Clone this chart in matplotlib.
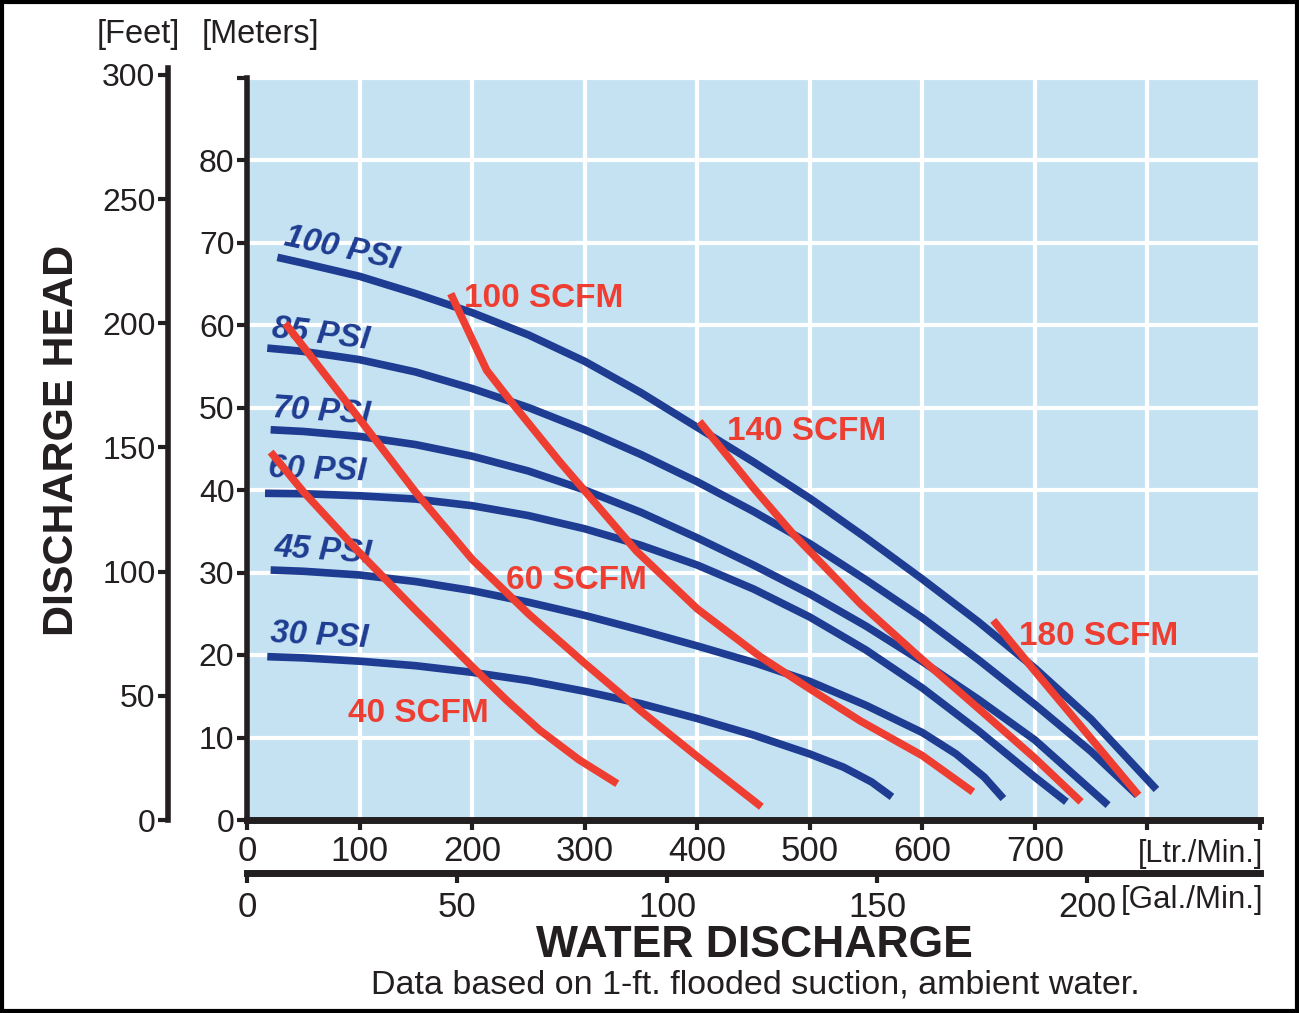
import matplotlib.pyplot as plt
from matplotlib.patches import Rectangle

plt.rcParams['font.family'] = ['Liberation Sans', 'DejaVu Sans']

# air pressure curves: water flow (L/min) vs discharge head (m)
psi_names = ["100 PSI", "85 PSI", "70 PSI", "60 PSI", "45 PSI", "30 PSI"]
psi100_flow = [27, 50, 100, 150, 200, 250, 300, 350, 400, 450, 500, 550, 600, 650, 700, 750, 808]
psi100_head = [68.2, 67.5, 65.9, 63.8, 61.5, 58.8, 55.6, 51.8, 47.6, 43.4, 39.0, 34.2, 29.2, 24.0, 18.4, 12.2, 3.7]
psi85_flow = [18, 50, 100, 150, 200, 250, 300, 350, 400, 450, 500, 550, 600, 650, 700, 750, 791]
psi85_head = [57.2, 56.8, 55.8, 54.3, 52.3, 50.0, 47.3, 44.3, 41.0, 37.4, 33.5, 29.1, 24.5, 19.4, 14.0, 8.3, 3.0]
psi70_flow = [21, 50, 100, 150, 200, 250, 300, 350, 400, 450, 500, 550, 600, 650, 700, 765]
psi70_head = [47.3, 47.1, 46.5, 45.5, 44.1, 42.3, 40.0, 37.3, 34.2, 30.9, 27.4, 23.5, 19.2, 14.6, 9.7, 1.8]
psi60_flow = [16, 50, 100, 150, 200, 250, 300, 350, 400, 450, 500, 550, 600, 650, 700, 728]
psi60_head = [39.6, 39.55, 39.3, 38.9, 38.1, 36.9, 35.3, 33.3, 30.9, 28.0, 24.6, 20.6, 16.0, 10.8, 5.2, 2.2]
psi45_flow = [21, 50, 100, 150, 200, 250, 300, 350, 400, 450, 500, 550, 600, 630, 655, 672]
psi45_head = [30.3, 30.15, 29.7, 28.9, 27.8, 26.4, 24.8, 23.0, 21.1, 19.1, 16.8, 13.9, 10.6, 8.0, 5.2, 2.6]
psi30_flow = [18, 50, 100, 150, 200, 250, 300, 350, 400, 450, 500, 530, 555, 573]
psi30_head = [19.8, 19.65, 19.25, 18.7, 17.9, 16.9, 15.6, 14.1, 12.3, 10.3, 8.0, 6.4, 4.6, 2.8]

# air consumption curves
scfm_names = ["40 SCFM", "60 SCFM", "100 SCFM", "140 SCFM", "180 SCFM"]
scfm40_flow = [21, 50, 100, 150, 200, 230, 260, 295, 329]
scfm40_head = [44.6, 39.8, 32.4, 25.4, 18.6, 14.6, 10.9, 7.3, 4.4]
scfm60_flow = [34, 75, 100, 150, 200, 250, 300, 350, 400, 457]
scfm60_head = [60.2, 53.0, 48.6, 39.7, 31.6, 25.0, 19.0, 13.2, 7.7, 1.6]
scfm100_flow = [181, 213, 237, 278, 346, 400, 456, 500, 545, 600, 645]
scfm100_head = [63.8, 54.5, 50.3, 43.4, 32.6, 25.6, 19.8, 15.9, 12.0, 7.8, 3.4]
scfm140_flow = [402, 449, 485, 545, 597, 650, 700, 741]
scfm140_head = [48.3, 40.4, 34.7, 26.2, 19.8, 13.5, 7.5, 2.2]
scfm180_flow = [663, 699, 792]
scfm180_head = [24.2, 18.2, 3.0]

ltr_ticks = [0, 100, 200, 300, 400, 500, 600, 700, 800, 900]
ltr_labels = ["0", "100", "200", "300", "400", "500", "600", "700", "", ""]
m_ticks = [0, 10, 20, 30, 40, 50, 60, 70, 80, 90]
m_labels = ["0", "10", "20", "30", "40", "50", "60", "70", "80", ""]
ft_ticks = [0, 50, 100, 150, 200, 250, 300]
gal_ticks = [0, 50, 100, 150, 200]

psi_flows = [psi100_flow, psi85_flow, psi70_flow, psi60_flow, psi45_flow, psi30_flow]
psi_heads = [psi100_head, psi85_head, psi70_head, psi60_head, psi45_head, psi30_head]
scfm_flows = [scfm40_flow, scfm60_flow, scfm100_flow, scfm140_flow, scfm180_flow]
scfm_heads = [scfm40_head, scfm60_head, scfm100_head, scfm140_head, scfm180_head]

# label placement (flow, head, rotation)
psi_pos = [(84, 69.2, -12), (65.5, 58.9, -7), (66.5, 49.5, -4),
           (62, 42.4, -2), (67.5, 32.6, -4), (64, 22.3, -3)]
scfm_pos = [(152, 11.9), (293, 28.0), (264, 62.2), (497, 46.1), (757, 21.2)]

BLUE = '#1e3c91'
RED = '#ee3e32'
BG = '#c5e2f3'
DARK = '#231f20'

W, H = 1299, 1013


def fx(px):
    return px / W


def fy(py):
    return 1 - py / H


fig = plt.figure(figsize=(W / 100, H / 100), dpi=100)
fig.patches.append(Rectangle((2 / W, 2 / H), 1 - 4 / W, 1 - 4 / H, transform=fig.transFigure,
                             fill=False, ec='black', lw=3))

ax = fig.add_axes([fx(247), fy(820), (1260 - 247) / W, (820 - 77.5) / H])
ax.set_xlim(0, 900)
ax.set_ylim(0, 90)
ax.set_facecolor(BG)
ax.spines['top'].set_visible(False)
ax.spines['right'].set_visible(False)
ax.spines['left'].set_linewidth(4)
ax.spines['bottom'].set_linewidth(5)
ax.spines['left'].set_color(DARK)
ax.spines['bottom'].set_color(DARK)
ax.set_xticks(ltr_ticks)
ax.set_xticklabels(ltr_labels)
ax.set_yticks(m_ticks)
ax.set_yticklabels(m_labels)
ax.grid(color='white', linewidth=3)
ax.set_axisbelow(True)
ax.tick_params(direction='out', length=7, width=3, color=DARK, labelcolor=DARK)
ax.tick_params(axis='x', labelsize=25, pad=3.5)
ax.tick_params(axis='y', labelsize=23, pad=2)

for fl, hd in zip(psi_flows, psi_heads):
    ax.plot(fl, hd, color=BLUE, lw=5.5, solid_capstyle='butt', solid_joinstyle='round', zorder=3)
for fl, hd in zip(scfm_flows, scfm_heads):
    ax.plot(fl, hd, color=RED, lw=5.5, solid_capstyle='butt', solid_joinstyle='round', zorder=5)

for name, (x, y, r) in zip(psi_names, psi_pos):
    ax.text(x, y, name, color=BLUE, fontsize=23.5, fontweight='bold', fontstyle='italic',
            rotation=r, rotation_mode='anchor', ha='center', va='center', zorder=4)
for name, (x, y) in zip(scfm_names, scfm_pos):
    ax.text(x, y, name, color=RED, fontsize=24, fontweight='bold',
            ha='center', va='baseline', zorder=6)

# feet scale on the far left
axf = fig.add_axes([fx(168), fy(820), 0.0001, (820 - 68) / H])
axf.set_ylim(0, 302.8)
axf.patch.set_visible(False)
for s in ['top', 'right', 'bottom']:
    axf.spines[s].set_visible(False)
axf.spines['left'].set_linewidth(4)
axf.spines['left'].set_color(DARK)
axf.set_xticks([])
axf.set_yticks(ft_ticks)
axf.tick_params(axis='y', direction='out', length=7, width=3, color=DARK,
                labelcolor=DARK, labelsize=23, pad=2)

# gallons scale under the litres scale
axg = fig.add_axes([fx(247), fy(873), (1260 - 247) / W, 0.0001])
axg.set_xlim(0, 241.2)
axg.patch.set_visible(False)
for s in ['top', 'right', 'left']:
    axg.spines[s].set_visible(False)
axg.spines['bottom'].set_linewidth(5)
axg.spines['bottom'].set_color(DARK)
axg.set_yticks([])
axg.set_xticks(gal_ticks)
axg.tick_params(axis='x', direction='out', length=7, width=3, color=DARK,
                labelcolor=DARK, labelsize=25, pad=6)

fig.text(fx(138), fy(43), "[Feet]", fontsize=23.5, color=DARK, ha='center', va='baseline')
fig.text(fx(260), fy(43), "[Meters]", fontsize=23.5, color=DARK, ha='center', va='baseline')
fig.text(fx(62), fy(440), "DISCHARGE HEAD", fontsize=31, fontweight='bold', color=DARK,
         rotation=90, ha='center', va='center')
fig.text(fx(1263), fy(862), "[Ltr./Min.]", fontsize=22, color=DARK, ha='right', va='baseline')
fig.text(fx(1263), fy(908), "[Gal./Min.]", fontsize=22.5, color=DARK, ha='right', va='baseline')
fig.text(fx(754), fy(957), "WATER DISCHARGE", fontsize=32, fontweight='bold', color=DARK,
         ha='center', va='baseline')
fig.text(fx(755), fy(993), "Data based on 1-ft. flooded suction, ambient water.", fontsize=24.5,
         color=DARK, ha='center', va='baseline')

fig.savefig('out.png', dpi=100)
